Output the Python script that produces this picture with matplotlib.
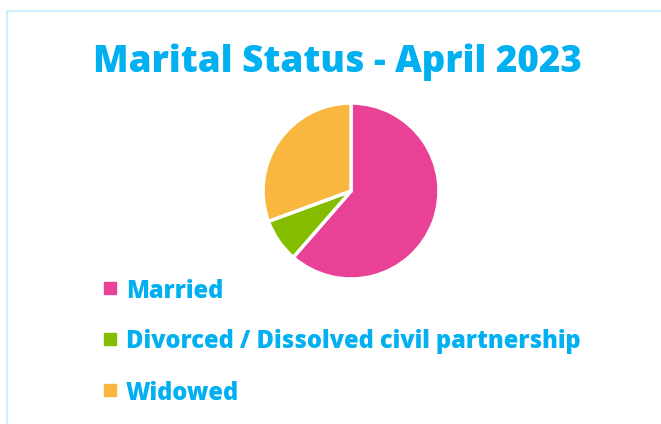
import matplotlib
matplotlib.use("Agg")
import matplotlib.pyplot as plt
from matplotlib.patches import Rectangle

# Marital status shares (%)
categories = ["Married", "Divorced / Dissolved civil partnership", "Widowed"]
shares = [61.4, 8.0, 30.6]
colors = ["#E84195", "#84BD00", "#F9B740"]

title = "Marital Status - April 2023"
blue = "#00B0F0"
W, H = 661, 424

plt.rcParams['font.family'] = ['Open Sans', 'DejaVu Sans']

fig = plt.figure(figsize=(W / 100, H / 100), dpi=100)
fig.patch.set_facecolor("white")

# light blue card border (only top and left edges are visible)
fig.add_artist(Rectangle((7 / W, -0.1), 1.2, (H - 11) / H + 0.1, transform=fig.transFigure,
                         fill=False, edgecolor="#CDEFFC", linewidth=1.5))

fig.text(337 / W, 1 - 62 / H, title, ha="center", va="center", color=blue,
         fontsize=26.5, fontweight="heavy")

# pie
cx, cy, r = 351, 191, 88
ax = fig.add_axes([(cx - r) / W, (H - cy - r) / H, 2 * r / W, 2 * r / H])
wedges, _ = ax.pie(shares, colors=colors, startangle=90, counterclock=False,
                   wedgeprops=dict(edgecolor="white", linewidth=2.5))
ax.set_xlim(-1, 1)
ax.set_ylim(-1, 1)
ax.axis("off")

# legend
y0, dy = 288, 51
for i, (label, col) in enumerate(zip(categories, colors)):
    y = y0 + i * dy
    fig.add_artist(Rectangle((104 / W, 1 - (y + 6) / H), 12 / W, 12 / H,
                             transform=fig.transFigure, color=col))
    fig.text(126 / W, 1 - y / H, label, ha="left", va="center_baseline", color=blue,
             fontsize=17, fontweight="heavy")

fig.savefig("out.png", dpi=100)
